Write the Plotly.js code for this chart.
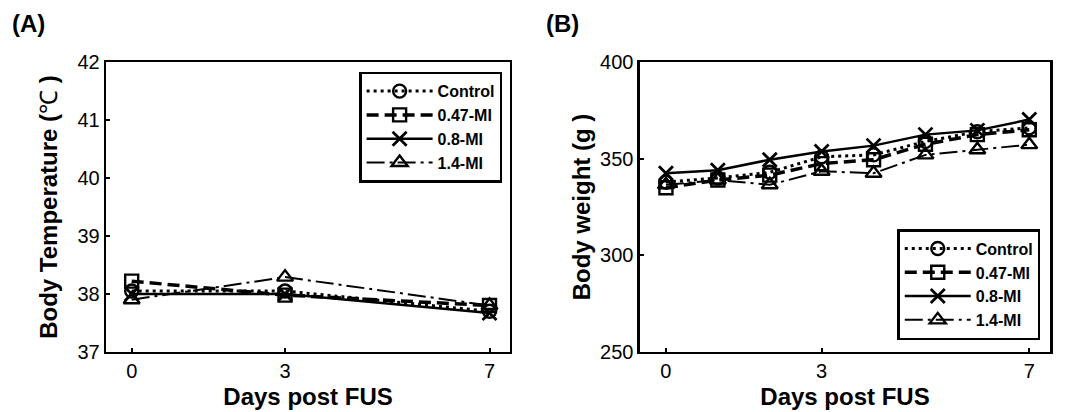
<!DOCTYPE html>
<html>
<head>
<meta charset="utf-8">
<script src="https://cdn.plot.ly/plotly-3.0.1.min.js"></script>
<style>html,body{margin:0;padding:0;background:#fff;}#chart{width:1072px;height:412px;}</style>
</head>
<body>
<div id="chart"></div>
<script>
// ---- Data ----
const seriesNames = ['Control', '0.47-MI', '0.8-MI', '1.4-MI'];

// Panel A: body temperature
const daysA = [0, 3, 7];
const tempControl = [38.05, 38.05, 37.70];
const temp047 = [38.22, 37.98, 37.80];
const temp08 = [38.00, 38.00, 37.67];
const temp14 = [37.90, 38.29, 37.80];

// Panel B: body weight
const daysB = [0, 1, 2, 3, 4, 5, 6, 7];
const wControl = [338, 340, 343, 351, 352, 359, 364, 366];
const w047 = [335, 339, 341.5, 347.5, 349.5, 357.5, 362.5, 365];
const w08 = [342.5, 344, 349.5, 353.8, 356.8, 362.5, 364.7, 370.3];
const w14 = [336.5, 339, 336.5, 343.5, 342.5, 352, 354.7, 357.3];

const xTickVals = [0, 3, 7];
const xTickText = ['0', '3', '7'];
const topTickVals = [0, 1, 2, 3, 4, 5, 6, 7];

// ---- Styles ----
const styles = [
  {line: {color: 'black', width: 3, dash: '3px,4px'}, marker: {symbol: 'circle-open', size: 13, color: 'black', line: {width: 2.4}}},
  {line: {color: 'black', width: 3.5, dash: '12px,6px'}, marker: {symbol: 'square-open', size: 13, color: 'black', line: {width: 2.4}}},
  {line: {color: 'black', width: 2.5}, marker: {symbol: 'x-thin-open', size: 14, color: 'black', line: {width: 2.8}}},
  {line: {color: 'black', width: 2, dash: '18px,5px,3px,5px'}, marker: {symbol: 'triangle-up-open', size: 14, color: 'black', line: {width: 2.4}}}
];

const ys_A = [tempControl, temp047, temp08, temp14];
const ys_B = [wControl, w047, w08, w14];

const traces = [];
seriesNames.forEach((n, i) => {
  traces.push({x: daysA, y: ys_A[i], name: n, type: 'scatter', mode: 'lines+markers',
    line: styles[i].line, marker: styles[i].marker, xaxis: 'x', yaxis: 'y', legend: 'legend'});
});
seriesNames.forEach((n, i) => {
  traces.push({x: daysB, y: ys_B[i], name: n, type: 'scatter', mode: 'lines+markers',
    line: styles[i].line, marker: styles[i].marker, xaxis: 'x2', yaxis: 'y2', legend: 'legend2'});
});

const FONT = 'Liberation Sans, Arial, sans-serif';
const tickFont = {family: FONT, size: 20, color: 'black'};
const titleFont = {family: FONT, size: 24, color: 'black', weight: 'bold'};

function xAxis(domain, anchor) {
  return {domain: domain, anchor: anchor, range: [-0.5, 7.4], tickvals: xTickVals, ticktext: xTickText,
    ticks: 'inside', ticklen: 4, tickwidth: 2, tickcolor: 'black',
    showline: true, linewidth: 2.5, linecolor: 'black', mirror: true, showgrid: false, zeroline: false,
    tickfont: tickFont,
    title: {text: 'Days post FUS', font: titleFont, standoff: 7}};
}
function yAxis(domain, anchor, range, dtick, title, standoff) {
  return {domain: domain, anchor: anchor, range: range, dtick: dtick, tick0: range[0],
    ticks: 'inside', ticklen: 4, tickwidth: 2, tickcolor: 'black',
    showline: true, linewidth: 2.5, linecolor: 'black', mirror: true, showgrid: false, zeroline: false,
    tickfont: tickFont,
    title: {text: title, font: titleFont, standoff: standoff}};
}
function topAxis(over) {
  return {overlaying: over, side: 'top', range: [-0.5, 7.4], tickvals: topTickVals, showticklabels: false,
    ticks: 'inside', ticklen: 4, tickwidth: 2, tickcolor: 'black', showgrid: false, zeroline: false, showline: false};
}

const yDom = [0.146, 0.849];
const legendBase = {bgcolor: 'white', bordercolor: 'black', borderwidth: 2.5,
  font: {family: FONT, size: 16, color: 'black', weight: 'bold'}, xanchor: 'left', yanchor: 'top',
  itemwidth: 66, tracegroupgap: 0};

const layout = {
  width: 1072, height: 412,
  margin: {l: 0, r: 0, t: 0, b: 0},
  paper_bgcolor: 'white', plot_bgcolor: 'white',
  showlegend: true,
  xaxis: xAxis([0.099, 0.4757], 'y'),
  yaxis: yAxis(yDom, 'x', [37, 42], 1, 'Body Temperature (<span style="font-weight:normal">℃</span> )', 13),
  xaxis2: xAxis([0.597, 0.9795], 'y2'),
  yaxis2: yAxis(yDom, 'x2', [250, 400], 50, 'Body weight (g )', 3),
  xaxis3: Object.assign(topAxis('x'), {anchor: 'y'}),
  xaxis4: Object.assign(topAxis('x2'), {anchor: 'y2'}),
  legend: Object.assign({}, legendBase, {x: 0.335, y: 0.826}),
  legend2: Object.assign({}, legendBase, {x: 0.837, y: 0.444}),
  annotations: [
    {text: '(A)', xref: 'paper', yref: 'paper', x: 0.009, y: 0.98, xanchor: 'left', yanchor: 'top', showarrow: false,
      font: {family: FONT, size: 24, color: 'black', weight: 'bold'}},
    {text: '(B)', xref: 'paper', yref: 'paper', x: 0.507, y: 0.98, xanchor: 'left', yanchor: 'top', showarrow: false,
      font: {family: FONT, size: 24, color: 'black', weight: 'bold'}}
  ]
};

Plotly.newPlot('chart', traces, layout, {displayModeBar: false, staticPlot: true});
</script>
</body>
</html>
